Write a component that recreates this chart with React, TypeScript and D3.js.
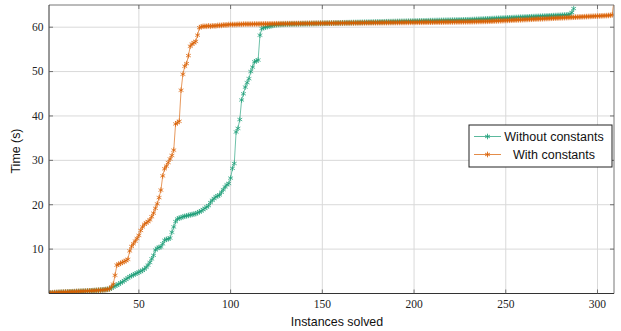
import React from "react";
import * as d3 from "d3";

const withoutConstants: number[] = [
  0.08,0.12,0.15,0.18,0.20,0.22,0.25,0.27,0.29,0.31,
  0.33,0.35,0.37,0.39,0.41,0.43,0.45,0.47,0.49,0.51,
  0.53,0.55,0.58,0.60,0.63,0.66,0.69,0.72,0.76,0.80,
  0.85,0.90,0.96,1.05,1.20,1.50,1.70,1.90,2.10,2.40,
  2.60,2.90,3.20,3.50,3.80,4.00,4.20,4.40,4.60,4.80,
  5.00,5.20,5.50,5.90,6.40,7.00,7.80,8.60,9.80,10.20,
  10.40,10.50,11.20,12.00,12.20,12.30,12.50,13.80,15.00,16.20,
  16.80,17.00,17.10,17.30,17.40,17.50,17.60,17.70,17.80,17.90,
  18.00,18.20,18.40,18.60,18.90,19.20,19.50,19.80,20.50,21.00,
  21.40,21.80,22.00,22.20,22.80,23.40,24.00,24.50,24.80,26.00,
  28.20,29.30,36.40,37.20,39.20,43.60,45.00,46.50,47.50,48.40,
  50.00,51.00,52.20,52.40,52.60,58.20,59.70,59.90,60.00,60.10,
  60.20,60.30,60.40,60.50,60.55,60.60,60.60,60.65,60.65,60.70,
  60.70,60.70,60.72,60.72,60.74,60.74,60.76,60.76,60.78,60.78,
  60.80,60.80,60.81,60.82,60.83,60.84,60.85,60.86,60.87,60.88,
  60.89,60.90,60.91,60.92,60.93,60.94,60.95,60.96,60.97,60.98,
  60.99,61.00,61.01,61.02,61.03,61.04,61.05,61.06,61.07,61.08,
  61.09,61.10,61.11,61.12,61.13,61.14,61.15,61.16,61.17,61.18,
  61.19,61.20,61.21,61.22,61.23,61.24,61.25,61.26,61.27,61.28,
  61.29,61.30,61.31,61.32,61.33,61.34,61.35,61.36,61.37,61.38,
  61.39,61.40,61.41,61.42,61.43,61.44,61.45,61.46,61.47,61.48,
  61.49,61.50,61.51,61.52,61.53,61.54,61.55,61.56,61.57,61.58,
  61.59,61.60,61.61,61.62,61.63,61.64,61.65,61.66,61.67,61.68,
  61.70,61.72,61.74,61.76,61.78,61.80,61.82,61.84,61.86,61.88,
  61.90,61.92,61.94,61.96,61.98,62.00,62.02,62.04,62.06,62.08,
  62.10,62.12,62.14,62.16,62.18,62.20,62.22,62.24,62.26,62.28,
  62.30,62.32,62.34,62.36,62.38,62.40,62.42,62.44,62.46,62.48,
  62.50,62.52,62.54,62.56,62.58,62.60,62.62,62.64,62.66,62.68,
  62.70,62.73,62.76,62.80,62.90,63.30,64.20,
];

const withConstants: number[] = [
  0.10,0.15,0.18,0.20,0.22,0.25,0.27,0.30,0.31,0.33,
  0.35,0.37,0.39,0.40,0.42,0.44,0.46,0.48,0.50,0.52,
  0.54,0.56,0.58,0.61,0.63,0.66,0.69,0.72,0.75,0.78,
  0.82,0.87,0.93,1.05,1.50,2.10,4.10,6.40,6.60,6.80,
  7.00,7.20,7.40,7.70,9.60,10.60,11.20,11.80,12.40,13.10,
  14.20,15.00,15.60,15.90,16.20,16.60,17.30,18.10,19.20,20.20,
  21.60,23.30,26.50,28.10,28.70,29.50,30.30,31.10,32.30,38.20,
  38.50,38.80,45.80,49.40,51.20,51.80,53.60,55.70,56.20,56.50,
  56.80,58.20,59.90,60.10,60.20,60.20,60.20,60.30,60.20,60.30,
  60.30,60.30,60.40,60.40,60.40,60.50,60.50,60.50,60.60,60.60,
  60.60,60.60,60.60,60.65,60.65,60.65,60.70,60.70,60.70,60.70,
  60.70,60.70,60.72,60.72,60.72,60.74,60.74,60.74,60.75,60.75,
  60.76,60.76,60.77,60.77,60.78,60.78,60.79,60.79,60.80,60.80,
  60.80,60.81,60.81,60.82,60.82,60.82,60.83,60.83,60.84,60.84,
  60.85,60.85,60.85,60.86,60.86,60.87,60.87,60.88,60.88,60.88,
  60.89,60.89,60.90,60.90,60.90,60.91,60.91,60.92,60.92,60.92,
  60.93,60.93,60.94,60.94,60.94,60.95,60.95,60.96,60.96,60.96,
  60.97,60.97,60.98,60.98,60.98,60.99,60.99,61.00,61.00,61.00,
  61.01,61.01,61.02,61.02,61.02,61.03,61.03,61.04,61.04,61.04,
  61.05,61.05,61.06,61.06,61.06,61.07,61.07,61.08,61.08,61.08,
  61.09,61.09,61.10,61.10,61.10,61.11,61.11,61.12,61.12,61.12,
  61.13,61.13,61.14,61.14,61.15,61.15,61.16,61.16,61.17,61.17,
  61.18,61.18,61.19,61.19,61.20,61.20,61.21,61.21,61.22,61.22,
  61.23,61.24,61.25,61.26,61.27,61.28,61.29,61.30,61.31,61.32,
  61.33,61.35,61.37,61.39,61.41,61.43,61.45,61.47,61.49,61.51,
  61.53,61.55,61.57,61.59,61.61,61.63,61.65,61.67,61.69,61.71,
  61.73,61.75,61.77,61.79,61.81,61.83,61.85,61.87,61.89,61.91,
  61.93,61.95,61.97,61.99,62.01,62.03,62.05,62.07,62.09,62.11,
  62.13,62.15,62.17,62.19,62.21,62.23,62.25,62.27,62.29,62.31,
  62.33,62.35,62.37,62.39,62.41,62.43,62.45,62.47,62.49,62.51,
  62.53,62.55,62.57,62.59,62.61,62.64,62.68,62.75,66.0,
];

const xTicks = [50, 100, 150, 200, 250, 300];
const yTicks = [10, 20, 30, 40, 50, 60];
const seriesNames = ["Without constants", "With constants"];
const seriesColors = ["#1b9e77", "#d95f02"];

const W = 621, H = 331;
const L = 49, R = 614, T = 5, B = 293.5;
const SERIF = "'Liberation Serif', 'DejaVu Serif', 'Times New Roman', serif";
const SANS = "'Liberation Sans', Arial, Helvetica, sans-serif";

function asterisk(cx: number, cy: number, r: number): string {
  let d = "";
  for (const a of [90, 210, 330]) {
    const rad = (a * Math.PI) / 180;
    const dx = r * Math.cos(rad), dy = r * Math.sin(rad);
    d += `M${cx - dx},${cy - dy}L${cx + dx},${cy + dy}`;
  }
  return d;
}

export default function App() {
  const x = d3.scaleLinear().domain([1, 309]).range([L, R]);
  const y = d3.scaleLinear().domain([0, 65]).range([B, T]);
  const series = [withoutConstants, withConstants];
  const line = d3
    .line<number>()
    .x((_, i) => x(i + 1))
    .y((v) => y(v));

  const legX = 469, legY = 125, legW = 143, legH = 42;
  const rowY = [136.5, 154.5];

  return (
    <svg width={W} height={H} style={{ position: "absolute", left: 0, top: 0 }}>
      <defs>
        <clipPath id="plotclip">
          <rect x={L} y={T} width={R - L} height={B - T} />
        </clipPath>
      </defs>
      <rect x={0} y={0} width={W} height={H} fill="#fff" />
      {xTicks.map((t) => (
        <line key={"gx" + t} x1={x(t)} x2={x(t)} y1={T} y2={B} stroke="#d9d9d9" strokeWidth={1} />
      ))}
      {yTicks.map((t) => (
        <line key={"gy" + t} x1={L} x2={R} y1={y(t)} y2={y(t)} stroke="#d9d9d9" strokeWidth={1} />
      ))}
      <g clipPath="url(#plotclip)">
        {series.map((s, k) => (
          <g key={k}>
            <path d={line(s) || ""} fill="none" stroke={seriesColors[k]} strokeWidth={0.8} strokeOpacity={0.8} />
            <path
              d={s.map((v, i) => asterisk(x(i + 1), y(v), 2.8)).join("")}
              fill="none"
              stroke={seriesColors[k]}
              strokeWidth={0.85}
              strokeOpacity={0.85}
            />
          </g>
        ))}
      </g>
      <line x1={L} x2={R} y1={T} y2={T} stroke="#777" strokeWidth={1} />
      <line x1={R} x2={R} y1={T} y2={B} stroke="#777" strokeWidth={1} />
      <line x1={L} x2={L} y1={T} y2={B} stroke="#333" strokeWidth={1} />
      <line x1={L} x2={R} y1={B} y2={B} stroke="#333" strokeWidth={1} />
      {xTicks.map((t) => (
        <g key={"tx" + t}>
          <line x1={x(t)} x2={x(t)} y1={B} y2={B - 4} stroke="#555" strokeWidth={0.8} />
          <line x1={x(t)} x2={x(t)} y1={T} y2={T + 4} stroke="#555" strokeWidth={0.8} />
          <text x={x(t)} y={307.5} textAnchor="middle" fontFamily={SERIF} fontSize={11.5} fill="#222">
            {t}
          </text>
        </g>
      ))}
      {yTicks.map((t) => (
        <g key={"ty" + t}>
          <line x1={L} x2={L + 4} y1={y(t)} y2={y(t)} stroke="#555" strokeWidth={0.8} />
          <line x1={R} x2={R - 4} y1={y(t)} y2={y(t)} stroke="#555" strokeWidth={0.8} />
          <text x={43.5} y={y(t) + 3.8} textAnchor="end" fontFamily={SERIF} fontSize={11.5} fill="#222">
            {t}
          </text>
        </g>
      ))}
      <text x={337} y={326} textAnchor="middle" fontFamily={SANS} fontSize={12.4} fill="#111">
        Instances solved
      </text>
      <text
        transform={`translate(19.5,151) rotate(-90)`}
        textAnchor="middle"
        fontFamily={SANS}
        fontSize={12.4}
        fill="#111"
      >
        Time (s)
      </text>
      <rect x={legX} y={legY} width={legW} height={legH} fill="#fff" stroke="#222" strokeWidth={1} />
      {seriesNames.map((n, k) => (
        <g key={n}>
          <line x1={474} x2={501} y1={rowY[k]} y2={rowY[k]} stroke={seriesColors[k]} strokeWidth={0.9} strokeOpacity={0.8} />
          <path d={asterisk(487.5, rowY[k], 2.8)} stroke={seriesColors[k]} strokeWidth={0.85} fill="none" />
          <text x={554} y={rowY[k] + 4.4} textAnchor="middle" fontFamily={SANS} fontSize={12.5} fill="#111">
            {n}
          </text>
        </g>
      ))}
    </svg>
  );
}
